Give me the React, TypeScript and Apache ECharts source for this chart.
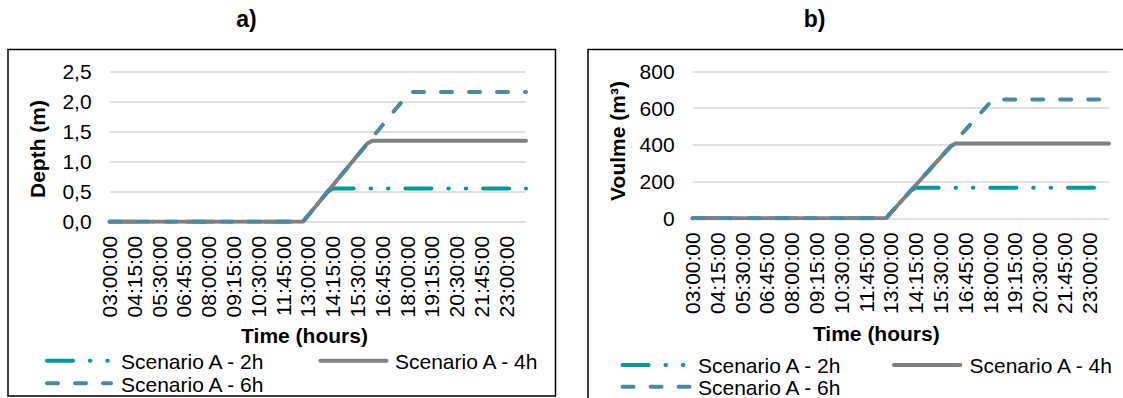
import React, { useEffect, useRef } from 'react';
import * as echarts from 'echarts';

// Time categories every 15 minutes from 03:00:00 to 00:00:00 (next day)
const timeLabels: string[] = [];
for (let m = 180; m <= 1440; m += 15) {
  const h = Math.floor(m / 60) % 24;
  const mm = m % 60;
  timeLabels.push(`${String(h).padStart(2, '0')}:${String(mm).padStart(2, '0')}:00`);
}

const seriesNames = ['Scenario A - 2h', 'Scenario A - 4h', 'Scenario A - 6h'];

// a) Depth (m)
const depth2h = [
  0, 0, 0, 0, 0, 0, 0, 0, 0, 0, 0, 0, 0, 0, 0, 0, 0, 0, 0, 0,
  0, 0, 0, 0, 0, 0, 0, 0, 0, 0, 0, 0, 0, 0, 0, 0, 0, 0, 0, 0,
  0.1, 0.2, 0.3, 0.4, 0.5,
  0.55, 0.55, 0.55, 0.55, 0.55, 0.55, 0.55, 0.55, 0.55, 0.55,
  0.55, 0.55, 0.55, 0.55, 0.55, 0.55, 0.55, 0.55, 0.55, 0.55,
  0.55, 0.55, 0.55, 0.55, 0.55, 0.55, 0.55, 0.55, 0.55, 0.55,
  0.55, 0.55, 0.55, 0.55, 0.55, 0.55, 0.55, 0.55, 0.55, 0.55,
];
const depth4h = [
  0, 0, 0, 0, 0, 0, 0, 0, 0, 0, 0, 0, 0, 0, 0, 0, 0, 0, 0, 0,
  0, 0, 0, 0, 0, 0, 0, 0, 0, 0, 0, 0, 0, 0, 0, 0, 0, 0, 0, 0,
  0.1, 0.2, 0.3, 0.4, 0.5, 0.6, 0.7, 0.8, 0.9, 1.0, 1.1, 1.2, 1.3,
  1.345, 1.345, 1.345, 1.345, 1.345, 1.345, 1.345, 1.345,
  1.345, 1.345, 1.345, 1.345, 1.345, 1.345, 1.345, 1.345,
  1.345, 1.345, 1.345, 1.345, 1.345, 1.345, 1.345, 1.345,
  1.345, 1.345, 1.345, 1.345, 1.345, 1.345, 1.345, 1.345,
];
const depth6h = [
  0, 0, 0, 0, 0, 0, 0, 0, 0, 0, 0, 0, 0, 0, 0, 0, 0, 0, 0, 0,
  0, 0, 0, 0, 0, 0, 0, 0, 0, 0, 0, 0, 0, 0, 0, 0, 0, 0, 0, 0,
  0.1, 0.2, 0.3, 0.4, 0.5, 0.6, 0.7, 0.8, 0.9, 1.0, 1.1,
  1.2, 1.3, 1.4, 1.5, 1.6, 1.7, 1.8, 1.9, 2.0, 2.1,
  2.155, 2.155, 2.155, 2.155, 2.155, 2.155, 2.155, 2.155,
  2.155, 2.155, 2.155, 2.155, 2.155, 2.155, 2.155, 2.155,
  2.155, 2.155, 2.155, 2.155, 2.155, 2.155, 2.155, 2.155,
];

// b) Volume (m3)
const vol2h = [
  0, 0, 0, 0, 0, 0, 0, 0, 0, 0, 0, 0, 0, 0, 0, 0, 0, 0, 0, 0,
  0, 0, 0, 0, 0, 0, 0, 0, 0, 0, 0, 0, 0, 0, 0, 0, 0, 0, 0, 0,
  30, 60, 90, 120, 150,
  166, 166, 166, 166, 166, 166, 166, 166, 166, 166,
  166, 166, 166, 166, 166, 166, 166, 166, 166, 166,
  166, 166, 166, 166, 166, 166, 166, 166, 166, 166,
  166, 166, 166, 166, 166, 166, 166, 166, 166, 166,
];
const vol4h = [
  0, 0, 0, 0, 0, 0, 0, 0, 0, 0, 0, 0, 0, 0, 0, 0, 0, 0, 0, 0,
  0, 0, 0, 0, 0, 0, 0, 0, 0, 0, 0, 0, 0, 0, 0, 0, 0, 0, 0, 0,
  30, 60, 90, 120, 150, 180, 210, 240, 270, 300, 330, 360, 390,
  407, 407, 407, 407, 407, 407, 407, 407,
  407, 407, 407, 407, 407, 407, 407, 407,
  407, 407, 407, 407, 407, 407, 407, 407,
  407, 407, 407, 407, 407, 407, 407, 407,
];
const vol6h = [
  0, 0, 0, 0, 0, 0, 0, 0, 0, 0, 0, 0, 0, 0, 0, 0, 0, 0, 0, 0,
  0, 0, 0, 0, 0, 0, 0, 0, 0, 0, 0, 0, 0, 0, 0, 0, 0, 0, 0, 0,
  30, 60, 90, 120, 150, 180, 210, 240, 270, 300, 330,
  360, 390, 420, 450, 480, 510, 540, 570, 600, 630,
  646, 646, 646, 646, 646, 646, 646, 646,
  646, 646, 646, 646, 646, 646, 646, 646,
  646, 646, 646, 646, 646, 646, 646, 646,
];

const FONT = '"Liberation Sans", Arial, sans-serif';
const FS = 21;
const LW = 4;
const styles = [
  { color: '#009C98', dash: [26, 16.9, 0.5, 16.9, 0.5, 16.9] as number[] | null },
  { color: '#808080', dash: null as number[] | null },
  { color: '#4A8A9B', dash: [11, 17] as number[] | null },
];

function makeSeries(name: string, idx: number, data: number[], style: any) {
  return {
    name,
    type: 'line',
    xAxisIndex: idx,
    yAxisIndex: idx,
    data,
    symbol: 'none',
    showSymbol: false,
    color: style.color,
    lineStyle: { color: style.color, width: LW, type: style.dash || 'solid', cap: 'round', join: 'round' },
    emphasis: { disabled: true },
    z: 2,
  };
}

function xAxis(gridIndex: number) {
  return {
    type: 'category',
    gridIndex,
    data: timeLabels,
    boundaryGap: false,
    axisLine: { show: false },
    axisTick: { show: false },
    axisLabel: { interval: 4, rotate: 90, fontSize: FS, color: '#000', fontFamily: FONT, margin: 14 },
    splitLine: { show: false },
  };
}

function yAxis(gridIndex: number, max: number, interval: number, fmt: (v: number) => string) {
  return {
    type: 'value',
    gridIndex,
    min: 0,
    max,
    interval,
    axisLine: { show: false },
    axisTick: { show: false },
    axisLabel: { fontSize: FS, color: '#000', fontFamily: FONT, margin: 18, formatter: fmt },
    splitLine: { lineStyle: { color: '#d9d9d9', width: 1.5 } },
  };
}

function txt(text: string, x: number, y: number, bold: boolean, size = FS, rotation = 0, align = 'center') {
  return {
    type: 'text',
    x,
    y,
    rotation,
    style: {
      text,
      fontSize: size,
      fontWeight: bold ? 'bold' : 'normal',
      fontFamily: FONT,
      fill: '#000',
      align,
      verticalAlign: 'middle',
      textAlign: align,
      textVerticalAlign: 'middle',
    },
  };
}

function legendLine(si: number, x1: number, x2: number, y: number) {
  const st = styles[si];
  return {
    type: 'line',
    shape: { x1, y1: y, x2, y2: y },
    style: {
      stroke: st.color,
      lineWidth: LW,
      lineCap: 'round',
      lineDash: st.dash || undefined,
    },
  };
}

function legendEntry(si: number, x1: number, x2: number, tx: number, y: number) {
  return [legendLine(si, x1, x2, y), txt(seriesNames[si], tx, y + 0.8, false, FS, 0, 'left')];
}

export default function App() {
  const ref = useRef<HTMLDivElement>(null);
  useEffect(() => {
    if (!ref.current) return;
    const chart = echarts.init(ref.current, undefined, { renderer: 'svg' });
    const option: any = {
      animation: false,
      backgroundColor: '#fff',
      grid: [
        { left: 109.6, right: 1123 - 526, top: 71.3, bottom: 398 - 221.7 },
        { left: 692.6, right: 1123 - 1109, top: 71.3, bottom: 398 - 218.3 },
      ],
      xAxis: [xAxis(0), xAxis(1)],
      yAxis: [
        yAxis(0, 2.5, 0.5, (v: number) => v.toFixed(1).replace('.', ',')),
        yAxis(1, 800, 200, (v: number) => String(v)),
      ],
      series: [
        makeSeries(seriesNames[0], 0, depth2h, styles[0]),
        makeSeries(seriesNames[1], 0, depth4h, styles[1]),
        makeSeries(seriesNames[2], 0, depth6h, styles[2]),
        makeSeries(seriesNames[0], 1, vol2h, styles[0]),
        makeSeries(seriesNames[1], 1, vol4h, styles[1]),
        makeSeries(seriesNames[2], 1, vol6h, styles[2]),
      ],
      graphic: [
        { type: 'rect', shape: { x: 8, y: 49.5, width: 547.5, height: 346.5 }, style: { fill: 'none', stroke: '#000', lineWidth: 1.5 } },
        { type: 'rect', shape: { x: 588, y: 49.5, width: 600, height: 400 }, style: { fill: 'none', stroke: '#000', lineWidth: 1.5 } },
        txt('a)', 246.4, 18.8, true, 23),
        txt('b)', 814.5, 18.5, true, 23),
        txt('Time (hours)', 304.5, 335, true),
        txt('Time (hours)', 876.3, 333.3, true),
        txt('Depth (m)', 37.5, 149, true, FS, Math.PI / 2),
        txt('Voulme (m³)', 617, 141, true, FS, Math.PI / 2),
        ...legendEntry(0, 47, 111, 121, 360.7),
        ...legendEntry(1, 320.5, 386.5, 395, 360.7),
        ...legendEntry(2, 47, 111, 121, 383.3),
        ...legendEntry(0, 622.6, 690, 698, 365),
        ...legendEntry(1, 894, 960.4, 969.5, 365),
        ...legendEntry(2, 622.6, 690, 698, 386.7),
      ],
    };
    chart.setOption(option);
    return () => chart.dispose();
  }, []);
  return <div ref={ref} style={{ position: 'absolute', left: 0, top: 0, width: 1123, height: 398 }} />;
}
